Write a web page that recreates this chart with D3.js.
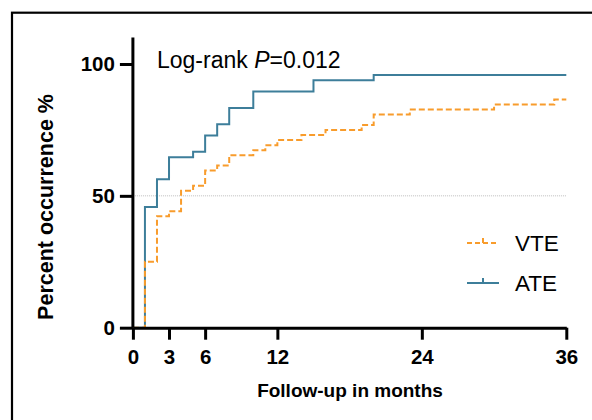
<!DOCTYPE html>
<html>
<head>
<meta charset="utf-8">
<script src="https://cdn.jsdelivr.net/npm/d3@7"></script>
<style>
  html, body { margin: 0; padding: 0; background: #fff; }
  svg { display: block; font-family: "Liberation Sans", Arial, sans-serif; }
</style>
</head>
<body>
<svg id="chart"></svg>
<script>
// data
const xTicks = [0, 3, 6, 12, 24, 36];
const yTicks = [0, 50, 100];
const ateMonths = [0, 1, 2, 3, 5, 6, 7, 8, 10, 15, 20, 36];
const atePercent = [0, 45.8, 56.3, 64.6, 66.7, 72.9, 77.1, 83.3, 89.6, 93.8, 95.8, 95.8];
const vteMonths = [0, 1, 2, 3, 4, 5, 6, 7, 8, 10, 11, 12, 14, 16, 19, 20, 23, 30, 35, 36];
const vtePercent = [0, 25.0, 42.3, 44.2, 51.9, 53.8, 59.6, 61.5, 65.4, 67.3, 69.2, 71.2, 73.1, 75.0, 76.9, 80.8, 82.7, 84.6, 86.5, 86.5];
const seriesNames = ["VTE", "ATE"];

const width = 592;
const height = 420;
const blue = "#3d7e9a";
const orange = "#f89c2c";

const svg = d3.select("#chart")
  .attr("width", width)
  .attr("height", height);

// outer frame (runs off right and bottom edges)
svg.append("rect")
  .attr("x", 12)
  .attr("y", 12.7)
  .attr("width", 620)
  .attr("height", 440)
  .style("fill", "none")
  .style("stroke", "#000")
  .style("stroke-width", 2.2);

//scales
const xScale = d3.scaleLinear().domain([0, 36]).range([132.9, 566.3]);
const yScale = d3.scaleLinear().domain([0, 110]).range([327.7, 37.6]);

// 50% reference line
svg.append("line")
  .attr("x1", xScale(0))
  .attr("x2", xScale(36))
  .attr("y1", yScale(50))
  .attr("y2", yScale(50))
  .style("stroke", "#bdbdbd")
  .style("stroke-width", 1)
  .style("stroke-dasharray", "1,1");

//curves
const step = d3.line()
  .x((d) => xScale(d[0]))
  .y((d) => yScale(d[1]))
  .curve(d3.curveStepAfter);

svg.append("path")
  .datum(ateMonths.map((m, i) => [m, atePercent[i]]))
  .attr("d", step)
  .style("fill", "none")
  .style("stroke", blue)
  .style("stroke-width", 2);

svg.append("path")
  .datum(vteMonths.map((m, i) => [m, vtePercent[i]]))
  .attr("d", step)
  .style("fill", "none")
  .style("stroke", orange)
  .style("stroke-width", 2)
  .style("stroke-dasharray", "6,3");

//axis
const xAxis = d3.axisBottom(xScale)
  .tickValues(xTicks)
  .tickSizeInner(12)
  .tickSizeOuter(0)
  .tickPadding(10);
const yAxis = d3.axisLeft(yScale)
  .tickValues(yTicks)
  .tickSizeInner(13)
  .tickSizeOuter(0)
  .tickPadding(5);

const gx = svg.append("g")
  .attr("transform", `translate(0, ${yScale(0)})`)
  .call(xAxis);
const gy = svg.append("g")
  .attr("transform", `translate(${xScale(0)}, 0)`)
  .call(yAxis);

[gx, gy].forEach((g) => {
  g.select(".domain").style("stroke", "#000").style("stroke-width", 3);
  g.selectAll(".tick line").style("stroke", "#000").style("stroke-width", 3);
  g.selectAll(".tick text")
    .style("font-family", "'Liberation Sans', Arial, sans-serif")
    .style("font-size", "20.5px")
    .style("font-weight", "bold")
    .style("fill", "#000");
});
gy.select(".domain").attr("d", `M0,${yScale(110)}V${yScale(0)}`);

//axis titles
svg.append("text")
  .attr("x", 350)
  .attr("y", 397)
  .attr("text-anchor", "middle")
  .style("font-size", "19px")
  .style("font-weight", "bold")
  .text("Follow-up in months");

svg.append("text")
  .attr("transform", "translate(52.5, 207) rotate(-90)")
  .attr("text-anchor", "middle")
  .style("font-size", "21.5px")
  .style("font-weight", "bold")
  .text("Percent occurrence %");

// log-rank annotation
const note = svg.append("text")
  .attr("x", 157)
  .attr("y", 68)
  .style("font-size", "23px");
note.append("tspan").text("Log-rank ");
note.append("tspan").style("font-style", "italic").text("P");
note.append("tspan").text("=0.012");

//legend
const legendColors = [orange, blue];
const legendDash = ["5,3", null];
const legend = svg.selectAll(".legend")
  .data(seriesNames)
  .enter()
  .append("g")
  .attr("class", "legend")
  .attr("transform", (d, i) => `translate(467, ${243 + i * 40})`);

legend.append("line")
  .attr("x1", 0)
  .attr("x2", 32)
  .style("stroke", (d, i) => legendColors[i])
  .style("stroke-width", 2)
  .style("stroke-dasharray", (d, i) => legendDash[i]);
legend.append("line")
  .attr("x1", 16)
  .attr("x2", 16)
  .attr("y1", 0)
  .attr("y2", -5)
  .style("stroke", (d, i) => legendColors[i])
  .style("stroke-width", 2);
legend.append("text")
  .attr("x", 48)
  .attr("y", 7.5)
  .style("font-size", "22.5px")
  .text((d) => d);
</script>
</body>
</html>
